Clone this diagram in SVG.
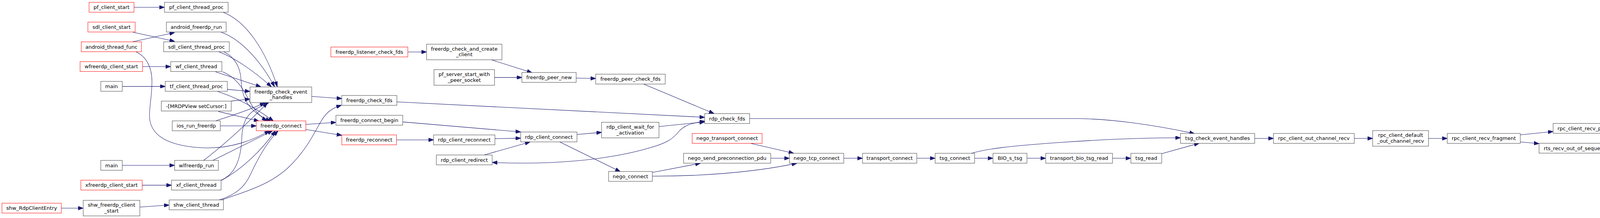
<svg xmlns="http://www.w3.org/2000/svg" width="4403" height="559" viewBox="0 0 4403 559">
<style>
.node rect{fill:#ffffff;stroke:#404040;stroke-width:1}
.node.red rect{stroke:#ff0000}
.node.cur rect{fill:#bfbfbf;stroke:#000000}
.node text{font-family:"DejaVu Sans","Liberation Sans",sans-serif;font-size:13px;text-anchor:middle;fill:#000000}
#edges path{fill:none;stroke:#191970;stroke-width:1;marker-end:url(#arr)}
#edges path.both{marker-start:url(#arr)}
</style>
<defs>
<marker id="arr" viewBox="0 0 13 9" refX="13" refY="4.5" markerWidth="13" markerHeight="9" markerUnits="userSpaceOnUse" orient="auto-start-reverse">
<path d="M0,0 L13,4.5 L0,9 z" fill="#191970" stroke="#191970" stroke-width="1"/>
</marker>
</defs>
<rect width="4403" height="559" fill="#ffffff"/>
<g id="edges" transform="scale(1 1.0707)">
<path d="M343,17.5 L421,17.5"/>
<path d="M340,77 L447,99"/>
<path d="M340,100 L447,78"/>
<path d="M348,124 C 372,134 389,158 389,195 C 389,235 381,258 383,283 C 387,325 430,350 520,354 C 590,357 650,335 690,313"/>
<path d="M365,159.5 L437,159.5"/>
<path d="M313,207 L423,207"/>
<path d="M313,396 L447,396"/>
<path d="M364,443.5 L439,443.5"/>
<path d="M157,498.5 L213,498.5"/>
<path d="M358,496 L433,491"/>
<path d="M570,29 C 630,50 680,120 710,208"/>
<path d="M566,77 C 620,95 670,150 703,208"/>
<path d="M560,124 C 600,138 650,170 695,208"/>
<path d="M552,172 L668,208"/>
<path d="M582,214 L640,219"/>
<path d="M592,242 L640,237"/>
<path d="M553,289 C 590,278 640,263 678,246"/>
<path d="M520,385 C 570,350 640,290 685,246"/>
<path d="M565,432 C 600,418 617,385 619,330 C 621,280 640,265 688,246"/>
<path d="M573,124 C 600,136 615,160 617,190 C 619,230 630,265 693,290"/>
<path d="M570,172 C 605,185 625,215 640,245 C 652,265 665,278 683,290"/>
<path d="M557,219 C 610,235 660,262 700,290"/>
<path d="M559,267 L663,290"/>
<path d="M564,301.5 L656,301.5"/>
<path d="M543,385 L698,313"/>
<path d="M567,432 C 620,405 670,360 705,313"/>
<path d="M560,479 C 600,468 625,450 640,420 C 660,380 680,345 712,313"/>
<path d="M567,479 C 640,455 700,440 750,390 C 780,360 795,335 810,310 C 822,290 830,275 845,265 C 855,258 864,255 874,252"/>
<path d="M798,231 L875,236"/>
<path d="M783,298 L860,293"/>
<path d="M783,310 L875,324"/>
<path d="M1044,124.5 L1092,124.5"/>
<path d="M1257,143 L1362,174"/>
<path d="M1266,185.5 L1336,185.5"/>
<path d="M1475,187 L1525,188"/>
<path d="M1647,201 L1828,272"/>
<path d="M1016,244 L1804,281"/>
<path d="M1031,292 L1333,316"/>
<path d="M1015,335 L1110,335"/>
<path d="M1267,332 L1333,331"/>
<path d="M1240,371 L1357,340"/>
<path class="both" d="M1260,389 C 1400,395 1550,385 1660,355 C 1700,345 1720,335 1735,318 C 1750,300 1770,295 1804,290"/>
<path d="M1477,322 L1540,317"/>
<path d="M1433,340 L1588,411"/>
<path d="M1687,303 L1804,292"/>
<path d="M1670,413 L1793,391"/>
<path d="M1670,422 C 1780,422 1920,415 2040,391"/>
<path d="M1920,343 L2032,367"/>
<path d="M1973,379 L2021,379"/>
<path d="M2160,379 L2208,379"/>
<path d="M2347,379 L2394,379"/>
<path d="M2495,379 L2542,379"/>
<path d="M2629,379 L2677,379"/>
<path d="M2848,379 L2895,379"/>
<path d="M2974,368 L3070,343"/>
<path d="M2487,367 C 2530,356 2580,350 2700,342 C 2820,334 2920,330 3022,330"/>
<path d="M1919,284 L2760,284 C 2850,285 2960,300 3058,320"/>
<path d="M3212,331.5 L3260,331.5"/>
<path d="M3467,331.5 L3514,331.5"/>
<path d="M3657,331.5 L3705,331.5"/>
<path d="M3892,323 L3976,315"/>
<path d="M3892,340 L3940,344"/>
<path d="M4127,315 L4211,322"/>
<path d="M4163,344 L4211,340"/>
</g>
<g id="n_pf_client_start" class="node red"><rect x="228" y="6" width="115" height="25.33"/><text x="285.5" y="23.2">pf_client_start</text></g>
<g id="n_sdl_client_start" class="node red"><rect x="225" y="56.7" width="121" height="25.33"/><text x="285.5" y="73.9">sdl_client_start</text></g>
<g id="n_android_thread_func" class="node red"><rect x="208" y="107.3" width="154" height="25.33"/><text x="285" y="124.5">android_thread_func</text></g>
<g id="n_wfreerdp_client_start" class="node red"><rect x="205" y="158" width="160" height="25.33"/><text x="285" y="175.2">wfreerdp_client_start</text></g>
<g id="n_main1" class="node"><rect x="258" y="208.7" width="55" height="25.33"/><text x="285.5" y="225.9">main</text></g>
<g id="n_main2" class="node"><rect x="258" y="411.3" width="55" height="25.33"/><text x="285.5" y="428.5">main</text></g>
<g id="n_xfreerdp_client_start" class="node red"><rect x="207" y="462" width="157" height="25.33"/><text x="285.5" y="479.2">xfreerdp_client_start</text></g>
<g id="n_shw_RdpClientEntry" class="node red"><rect x="5" y="521" width="152" height="25.33"/><text x="81" y="538.2">shw_RdpClientEntry</text></g>
<g id="n_shw_freerdp_client_start" class="node"><rect x="213" y="513.7" width="145" height="40"/><text x="285.5" y="530.2">shw_freerdp_client</text><text x="285.5" y="544.7">_start</text></g>
<g id="n_pf_client_thread_proc" class="node"><rect x="421" y="6" width="163" height="25.33"/><text x="502.5" y="23.2">pf_client_thread_proc</text></g>
<g id="n_android_freerdp_run" class="node"><rect x="426" y="56.7" width="153" height="25.33"/><text x="502.5" y="73.9">android_freerdp_run</text></g>
<g id="n_sdl_client_thread_proc" class="node"><rect x="419" y="107.3" width="168" height="25.33"/><text x="503" y="124.5">sdl_client_thread_proc</text></g>
<g id="n_wf_client_thread" class="node"><rect x="437" y="158" width="131" height="25.33"/><text x="502.5" y="175.2">wf_client_thread</text></g>
<g id="n_tf_client_thread_proc" class="node"><rect x="423" y="208.7" width="159" height="25.33"/><text x="502.5" y="225.9">tf_client_thread_proc</text></g>
<g id="n_MRDPView_setCursor" class="node"><rect x="413" y="259.3" width="179" height="25.33"/><text x="502.5" y="276.5">-[MRDPView setCursor:]</text></g>
<g id="n_ios_run_freerdp" class="node"><rect x="441" y="310" width="123" height="25.33"/><text x="502.5" y="327.2">ios_run_freerdp</text></g>
<g id="n_wlfreerdp_run" class="node"><rect x="447" y="411.3" width="112" height="25.33"/><text x="503" y="428.5">wlfreerdp_run</text></g>
<g id="n_xf_client_thread" class="node"><rect x="439" y="462" width="127" height="25.33"/><text x="502.5" y="479.2">xf_client_thread</text></g>
<g id="n_shw_client_thread" class="node"><rect x="433" y="512.7" width="139" height="25.33"/><text x="502.5" y="529.9">shw_client_thread</text></g>
<g id="n_freerdp_check_event_handles" class="node"><rect x="640" y="223" width="158" height="40"/><text x="719" y="239.5">freerdp_check_event</text><text x="719" y="254">_handles</text></g>
<g id="n_freerdp_connect" class="node red"><rect x="656" y="310" width="127" height="25.33"/><text x="719.5" y="327.2">freerdp_connect</text></g>
<g id="n_freerdp_listener_check_fds" class="node red"><rect x="847" y="120.6" width="197" height="25.33"/><text x="945.5" y="137.8">freerdp_listener_check_fds</text></g>
<g id="n_freerdp_check_fds" class="node"><rect x="875" y="244.8" width="141" height="25.33"/><text x="945.5" y="262">freerdp_check_fds</text></g>
<g id="n_freerdp_connect_begin" class="node"><rect x="860" y="295.7" width="171" height="25.33"/><text x="945.5" y="312.9">freerdp_connect_begin</text></g>
<g id="n_freerdp_reconnect" class="node red"><rect x="875" y="346" width="140" height="25.33"/><text x="945" y="363.2">freerdp_reconnect</text></g>
<g id="n_freerdp_check_and_create_client" class="node"><rect x="1092" y="113.3" width="193" height="40"/><text x="1188.5" y="129.8">freerdp_check_and_create</text><text x="1188.5" y="144.3">_client</text></g>
<g id="n_pf_server_start_with_peer_socket" class="node"><rect x="1111" y="178.6" width="155" height="40"/><text x="1188.5" y="195.1">pf_server_start_with</text><text x="1188.5" y="209.6">_peer_socket</text></g>
<g id="n_rdp_client_reconnect" class="node"><rect x="1110" y="346" width="157" height="25.33"/><text x="1188.5" y="363.2">rdp_client_reconnect</text></g>
<g id="n_rdp_client_redirect" class="node"><rect x="1117" y="397.4" width="143" height="25.33"/><text x="1188.5" y="414.6">rdp_client_redirect</text></g>
<g id="n_freerdp_peer_new" class="node"><rect x="1336" y="185.9" width="139" height="25.33"/><text x="1405.5" y="203.1">freerdp_peer_new</text></g>
<g id="n_rdp_client_connect" class="node"><rect x="1333" y="338.5" width="144" height="25.33"/><text x="1405" y="355.7">rdp_client_connect</text></g>
<g id="n_freerdp_peer_check_fds" class="node"><rect x="1525" y="190.2" width="178" height="25.33"/><text x="1614" y="207.4">freerdp_peer_check_fds</text></g>
<g id="n_rdp_client_wait_for_activation" class="node"><rect x="1540" y="313.5" width="147" height="40"/><text x="1613.5" y="330">rdp_client_wait_for</text><text x="1613.5" y="344.5">_activation</text></g>
<g id="n_nego_connect" class="node"><rect x="1558" y="439.7" width="112" height="25.33"/><text x="1614" y="456.9">nego_connect</text></g>
<g id="n_rdp_check_fds" class="node"><rect x="1804" y="291.4" width="115" height="25.33"/><text x="1861.5" y="308.6">rdp_check_fds</text></g>
<g id="n_nego_transport_connect" class="node red"><rect x="1772" y="342.2" width="179" height="25.33"/><text x="1861.5" y="359.4">nego_transport_connect</text></g>
<g id="n_nego_send_preconnection_pdu" class="node"><rect x="1750" y="393.1" width="223" height="25.33"/><text x="1861.5" y="410.3">nego_send_preconnection_pdu</text></g>
<g id="n_nego_tcp_connect" class="node"><rect x="2021" y="393.1" width="139" height="25.33"/><text x="2090.5" y="410.3">nego_tcp_connect</text></g>
<g id="n_transport_connect" class="node"><rect x="2208" y="393.1" width="139" height="25.33"/><text x="2277.5" y="410.3">transport_connect</text></g>
<g id="n_tsg_connect" class="node"><rect x="2394" y="393.1" width="101" height="25.33"/><text x="2444.5" y="410.3">tsg_connect</text></g>
<g id="n_BIO_s_tsg" class="node"><rect x="2542" y="393.1" width="87" height="25.33"/><text x="2585.5" y="410.3">BIO_s_tsg</text></g>
<g id="n_transport_bio_tsg_read" class="node"><rect x="2677" y="393.1" width="171" height="25.33"/><text x="2762.5" y="410.3">transport_bio_tsg_read</text></g>
<g id="n_tsg_read" class="node"><rect x="2895" y="393.1" width="79" height="25.33"/><text x="2934.5" y="410.3">tsg_read</text></g>
<g id="n_tsg_check_event_handles" class="node"><rect x="3022" y="342.2" width="190" height="25.33"/><text x="3117" y="359.4">tsg_check_event_handles</text></g>
<g id="n_rpc_client_out_channel_recv" class="node"><rect x="3260" y="342.2" width="207" height="25.33"/><text x="3363.5" y="359.4">rpc_client_out_channel_recv</text></g>
<g id="n_rpc_client_default_out_channel_recv" class="node"><rect x="3514" y="334.9" width="143" height="40"/><text x="3585.5" y="351.4">rpc_client_default</text><text x="3585.5" y="365.9">_out_channel_recv</text></g>
<g id="n_rpc_client_recv_fragment" class="node"><rect x="3705" y="342.2" width="187" height="25.33"/><text x="3798.5" y="359.4">rpc_client_recv_fragment</text></g>
<g id="n_rpc_client_recv_pdu" class="node"><rect x="3976" y="316.5" width="151" height="25.33"/><text x="4051.5" y="333.7">rpc_client_recv_pdu</text></g>
<g id="n_rts_recv_out_of_sequence_pdu" class="node"><rect x="3940" y="367.4" width="223" height="25.33"/><text x="4051.5" y="384.6">rts_recv_out_of_sequence_pdu</text></g>
<g id="n_rts_match_pdu_signature" class="node cur"><rect x="4211" y="342.2" width="186" height="25.33"/><text x="4304" y="359.4">rts_match_pdu_signature</text></g>
</svg>
